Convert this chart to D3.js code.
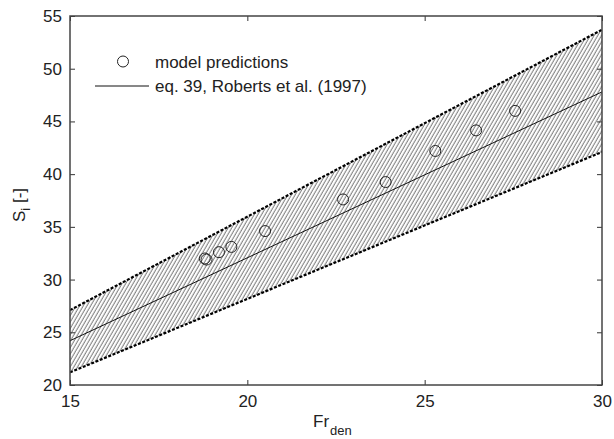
<!DOCTYPE html>
<html>
<head>
<meta charset="utf-8">
<script src="https://cdn.jsdelivr.net/npm/d3@7"></script>
<style>
  body { margin: 0; background: #fff; }
  text { font-family: "Liberation Sans", Arial, sans-serif; fill: #222; }
</style>
</head>
<body>
<script>
'use strict';

// band of eq. 39 (upper / centre / lower) at x = 15 and x = 30
const bandX = [15, 30];
const bandUpper = [27.1, 53.7];
const bandMid = [24.2, 47.8];
const bandLower = [21.2, 42.1];

// model predictions
const predX = [18.8, 18.85, 19.2, 19.55, 20.5, 22.7, 23.9, 25.3, 26.45, 27.55];
const predY = [32.0, 31.9, 32.6, 33.1, 34.6, 37.6, 39.25, 42.2, 44.15, 46.0];

const xTicks = [15, 20, 25, 30];
const yTicks = [20, 25, 30, 35, 40, 45, 50, 55];

(function() {
  let svgContainer = d3.select('body')
    .append('svg')
    .attr('width', 614)
    .attr('height', 439);

  // plot area
  const left = 70, right = 602, top = 16, bottom = 385;

  let xScale = d3.scaleLinear().domain([15, 30]).range([left, right]);
  let yScale = d3.scaleLinear().domain([20, 55]).range([bottom, top]);

  // hatch pattern for the band
  let defs = svgContainer.append('defs');
  defs.append('clipPath').attr('id', 'plotClip')
    .append('rect')
    .attr('x', left).attr('y', top)
    .attr('width', right - left).attr('height', bottom - top);
  let pat = defs.append('pattern')
    .attr('id', 'hatch')
    .attr('patternUnits', 'userSpaceOnUse')
    .attr('width', 3.2)
    .attr('height', 10)
    .attr('patternTransform', 'rotate(30)');
  pat.append('line')
    .attr('x1', 1).attr('y1', 0).attr('x2', 1).attr('y2', 10)
    .attr('stroke', '#6a6a6a')
    .attr('stroke-width', 0.9);

  drawBand();
  drawAxes();
  plotData();
  makeLabels();

  // hatched band with dashed edges and centre line
  function drawBand() {
    let g = svgContainer.append('g').attr('clip-path', 'url(#plotClip)');
    let idx = d3.range(bandX.length);

    let area = d3.area()
      .x((i) => xScale(bandX[i]))
      .y0((i) => yScale(bandLower[i]))
      .y1((i) => yScale(bandUpper[i]));
    g.append('path')
      .datum(idx)
      .attr('d', area)
      .attr('fill', 'url(#hatch)');

    let edges = [bandUpper, bandLower];
    edges.forEach(function(vals) {
      let line = d3.line()
        .x((i) => xScale(bandX[i]))
        .y((i) => yScale(vals[i]));
      g.append('path')
        .datum(idx)
        .attr('d', line)
        .attr('fill', 'none')
        .attr('stroke', '#000')
        .attr('stroke-width', 2.2)
        .attr('stroke-dasharray', '3,1.6');
    });

    let mid = d3.line()
      .x((i) => xScale(bandX[i]))
      .y((i) => yScale(bandMid[i]));
    g.append('path')
      .datum(idx)
      .attr('d', mid)
      .attr('fill', 'none')
      .attr('stroke', '#111')
      .attr('stroke-width', 1);
  }

  // box with inward ticks on all four sides
  function drawAxes() {
    let tickLen = 5;

    let xAxis = d3.axisBottom(xScale).tickValues(xTicks)
      .tickSizeInner(-tickLen).tickSizeOuter(0).tickPadding(10);
    let gx = svgContainer.append('g')
      .attr('transform', 'translate(0,' + bottom + ')')
      .call(xAxis);

    let yAxis = d3.axisLeft(yScale).tickValues(yTicks)
      .tickSizeInner(-tickLen).tickSizeOuter(0).tickPadding(8);
    let gy = svgContainer.append('g')
      .attr('transform', 'translate(' + left + ',0)')
      .call(yAxis);

    let xTop = d3.axisTop(xScale).tickValues(xTicks)
      .tickSizeInner(-tickLen).tickSizeOuter(0).tickFormat('');
    let gxt = svgContainer.append('g')
      .attr('transform', 'translate(0,' + top + ')')
      .call(xTop);

    let yRight = d3.axisRight(yScale).tickValues(yTicks)
      .tickSizeInner(-tickLen).tickSizeOuter(0).tickFormat('');
    let gyr = svgContainer.append('g')
      .attr('transform', 'translate(' + right + ',0)')
      .call(yRight);

    [gx, gy, gxt, gyr].forEach(function(g) {
      g.select('.domain').remove();
      g.selectAll('line').attr('stroke', '#333').attr('stroke-width', 1);
      g.selectAll('text')
        .style('font-family', '"Liberation Sans", Arial, sans-serif')
        .style('font-size', '17px')
        .attr('fill', '#222');
    });

    svgContainer.append('rect')
      .attr('x', left).attr('y', top)
      .attr('width', right - left).attr('height', bottom - top)
      .attr('fill', 'none')
      .attr('stroke', '#444')
      .attr('stroke-width', 1.5);
  }

  // open circles for model predictions
  function plotData() {
    svgContainer.selectAll('.dot')
      .data(d3.range(predX.length))
      .enter()
      .append('circle')
        .attr('class', 'dot')
        .attr('cx', (i) => xScale(predX[i]))
        .attr('cy', (i) => yScale(predY[i]))
        .attr('r', 5.5)
        .attr('fill', 'none')
        .attr('stroke', '#222')
        .attr('stroke-width', 1);
  }

  // legend and axis labels
  function makeLabels() {
    svgContainer.append('circle')
      .attr('cx', 123).attr('cy', 61.5).attr('r', 5.5)
      .attr('fill', 'none').attr('stroke', '#222').attr('stroke-width', 1);
    svgContainer.append('text')
      .attr('x', 155).attr('y', 67.5)
      .style('font-size', '17px')
      .text('model predictions');

    svgContainer.append('line')
      .attr('x1', 95).attr('x2', 149).attr('y1', 86).attr('y2', 86)
      .attr('stroke', '#111').attr('stroke-width', 1);
    svgContainer.append('text')
      .attr('x', 155).attr('y', 92)
      .style('font-size', '17px')
      .text('eq. 39, Roberts et al. (1997)');

    // x label: Fr_den
    let xl = svgContainer.append('text')
      .attr('x', 313).attr('y', 427)
      .style('font-size', '17px');
    xl.append('tspan').text('Fr');
    xl.append('tspan').attr('dy', 8).attr('dx', 1)
      .style('font-size', '13px').text('den');

    // y label: S_i [-]
    let yl = svgContainer.append('text')
      .attr('transform', 'translate(25,222)rotate(-90)')
      .style('font-size', '17px');
    yl.append('tspan').text('S');
    yl.append('tspan').attr('dy', 5).style('font-size', '13px').text('i');
    yl.append('tspan').attr('dy', -5).text(' [-]');
  }
})();
</script>
</body>
</html>
